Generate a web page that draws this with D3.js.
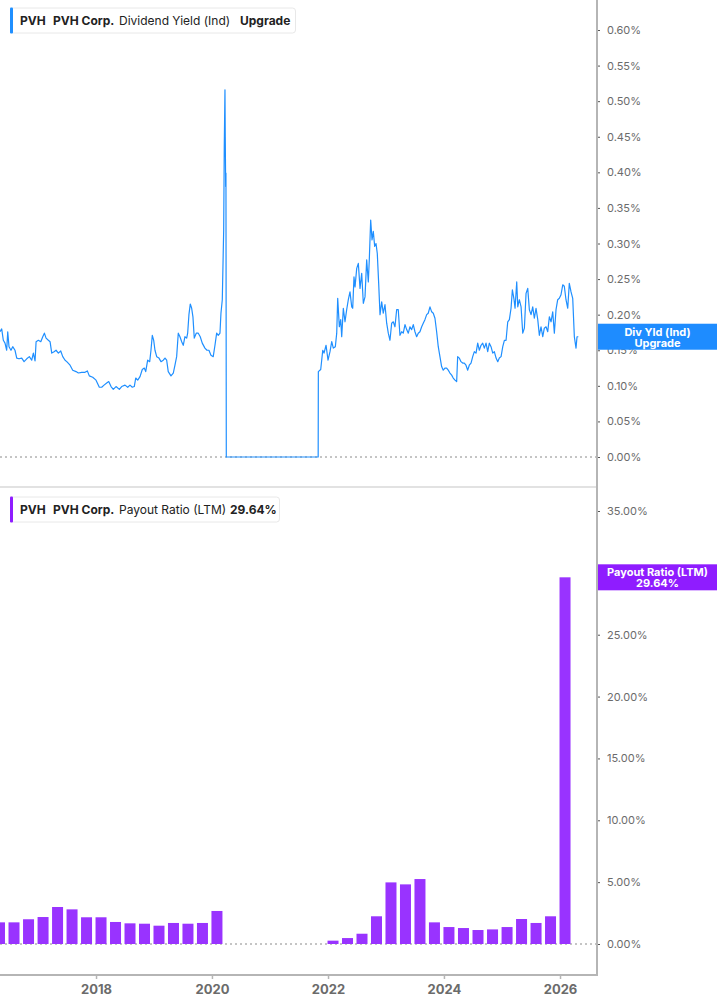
<!DOCTYPE html>
<html>
<head>
<meta charset="utf-8">
<script src="https://cdn.jsdelivr.net/npm/d3@7"></script>
<style>
  body { margin: 0; background: #fff; font-family: Inter, "Noto Sans", sans-serif; }
  svg text { font-family: Inter, "Noto Sans", sans-serif; }
</style>
</head>
<body>
<div id="plot"></div>
<script>
// Dividend yield (Ind), % — [decimal year, value]
const yieldDates = [
  2016.345, 2016.374, 2016.402, 2016.431, 2016.460, 2016.478, 2016.500, 2016.534, 2016.564, 2016.603,
  2016.633, 2016.672, 2016.719, 2016.759, 2016.805, 2016.850, 2016.891, 2016.919, 2016.948, 2016.966,
  2017.005, 2017.047, 2017.081, 2017.109, 2017.138, 2017.178, 2017.207, 2017.236, 2017.276, 2017.310,
  2017.350, 2017.391, 2017.426, 2017.466, 2017.495, 2017.552, 2017.598, 2017.655, 2017.695, 2017.753,
  2017.810, 2017.850, 2017.884, 2017.943, 2018.000, 2018.057, 2018.098, 2018.138, 2018.184, 2018.219,
  2018.259, 2018.298, 2018.345, 2018.402, 2018.443, 2018.500, 2018.547, 2018.586, 2018.626, 2018.660,
  2018.685, 2018.719, 2018.759, 2018.798, 2018.833, 2018.857, 2018.891, 2018.926, 2018.948, 2018.971,
  2018.995, 2019.017, 2019.047, 2019.086, 2019.121, 2019.160, 2019.190, 2019.219, 2019.246, 2019.293,
  2019.333, 2019.362, 2019.391, 2019.419, 2019.448, 2019.478, 2019.505, 2019.534, 2019.564, 2019.581,
  2019.603, 2019.626, 2019.650, 2019.672, 2019.695, 2019.729, 2019.764, 2019.798, 2019.833, 2019.879,
  2019.914, 2019.948, 2019.983, 2020.022, 2020.052, 2020.081, 2020.109, 2020.138, 2020.155, 2020.178,
  2020.202, 2020.212, 2020.224, 2020.229, 2020.236, 2020.241, 2020.247, 2021.830,
  2021.833, 2021.874, 2021.909, 2021.931, 2021.966, 2022.000, 2022.034, 2022.064, 2022.091, 2022.126,
  2022.150, 2022.167, 2022.195, 2022.219, 2022.236, 2022.264, 2022.293, 2022.322, 2022.350, 2022.379,
  2022.409, 2022.426, 2022.448, 2022.466, 2022.495, 2022.523, 2022.552, 2022.581, 2022.609, 2022.638,
  2022.667, 2022.695, 2022.712, 2022.736, 2022.759, 2022.781, 2022.805, 2022.828, 2022.850, 2022.874,
  2022.897, 2022.926, 2022.953, 2022.983, 2023.012, 2023.040, 2023.069, 2023.098, 2023.126, 2023.155,
  2023.184, 2023.212, 2023.241, 2023.271, 2023.298, 2023.328, 2023.357, 2023.385, 2023.414, 2023.443,
  2023.471, 2023.500, 2023.529, 2023.557, 2023.586, 2023.616, 2023.643, 2023.672, 2023.702, 2023.729,
  2023.759, 2023.788, 2023.816, 2023.845, 2023.874, 2023.902, 2023.931, 2023.960, 2023.988, 2024.017,
  2024.046, 2024.074, 2024.103, 2024.133, 2024.160, 2024.190, 2024.219, 2024.236, 2024.264, 2024.293,
  2024.322, 2024.350, 2024.379, 2024.409, 2024.436, 2024.466, 2024.495, 2024.523, 2024.552, 2024.581,
  2024.609, 2024.638, 2024.667, 2024.695, 2024.724, 2024.753, 2024.781, 2024.810, 2024.840, 2024.867,
  2024.897, 2024.926, 2024.953, 2024.983, 2025.012, 2025.040, 2025.069, 2025.098, 2025.126, 2025.155,
  2025.178, 2025.207, 2025.224, 2025.253, 2025.271, 2025.298, 2025.328, 2025.357, 2025.385, 2025.414,
  2025.443, 2025.471, 2025.500, 2025.529, 2025.557, 2025.586, 2025.616, 2025.643, 2025.672, 2025.702,
  2025.729, 2025.759, 2025.788, 2025.816, 2025.845, 2025.874, 2025.902, 2025.931, 2025.960, 2025.988,
  2026.017, 2026.047, 2026.074, 2026.103, 2026.133, 2026.160, 2026.190, 2026.219, 2026.247, 2026.276,
  2026.293, 2026.316
];
const yieldValues = [
  0.176, 0.180, 0.164, 0.160, 0.150, 0.176, 0.155, 0.150, 0.155, 0.150,
  0.139, 0.138, 0.139, 0.134, 0.138, 0.141, 0.136, 0.146, 0.135, 0.162,
  0.164, 0.162, 0.169, 0.174, 0.167, 0.164, 0.162, 0.146, 0.148, 0.150,
  0.146, 0.149, 0.141, 0.136, 0.134, 0.129, 0.122, 0.120, 0.118, 0.119,
  0.119, 0.121, 0.114, 0.112, 0.108, 0.098, 0.098, 0.101, 0.104, 0.106,
  0.099, 0.095, 0.099, 0.095, 0.099, 0.101, 0.098, 0.101, 0.098, 0.099,
  0.111, 0.108, 0.113, 0.123, 0.125, 0.120, 0.136, 0.134, 0.150, 0.171,
  0.164, 0.150, 0.141, 0.139, 0.134, 0.136, 0.139, 0.136, 0.120, 0.114,
  0.118, 0.129, 0.141, 0.174, 0.169, 0.162, 0.157, 0.169, 0.167, 0.174,
  0.200, 0.215, 0.209, 0.197, 0.167, 0.174, 0.174, 0.169, 0.160, 0.153,
  0.150, 0.150, 0.143, 0.141, 0.157, 0.174, 0.171, 0.174, 0.202, 0.221,
  0.319, 0.436, 0.516, 0.450, 0.380, 0.399, 0.000, 0.000,
  0.120, 0.123, 0.150, 0.146, 0.157, 0.136, 0.148, 0.162, 0.153, 0.155,
  0.174, 0.223, 0.183, 0.193, 0.169, 0.209, 0.190, 0.207, 0.221, 0.232,
  0.211, 0.209, 0.253, 0.239, 0.265, 0.272, 0.237, 0.258, 0.216, 0.225,
  0.277, 0.246, 0.277, 0.333, 0.305, 0.317, 0.296, 0.300, 0.286, 0.244,
  0.200, 0.218, 0.202, 0.214, 0.188, 0.174, 0.164, 0.188, 0.190, 0.183,
  0.207, 0.207, 0.171, 0.176, 0.174, 0.186, 0.179, 0.174, 0.183, 0.179,
  0.186, 0.176, 0.169, 0.174, 0.176, 0.183, 0.188, 0.193, 0.200, 0.202,
  0.211, 0.204, 0.202, 0.195, 0.176, 0.155, 0.141, 0.127, 0.122, 0.125,
  0.125, 0.122, 0.118, 0.115, 0.111, 0.108, 0.106, 0.141, 0.139, 0.134,
  0.132, 0.132, 0.129, 0.122, 0.129, 0.132, 0.141, 0.148, 0.146, 0.160,
  0.150, 0.157, 0.160, 0.153, 0.160, 0.148, 0.160, 0.155, 0.146, 0.148,
  0.139, 0.134, 0.139, 0.141, 0.155, 0.164, 0.164, 0.190, 0.193, 0.209,
  0.235, 0.221, 0.209, 0.246, 0.211, 0.221, 0.211, 0.174, 0.181, 0.230,
  0.237, 0.207, 0.200, 0.211, 0.195, 0.209, 0.193, 0.171, 0.183, 0.169,
  0.181, 0.183, 0.176, 0.197, 0.190, 0.204, 0.174, 0.207, 0.221, 0.223,
  0.228, 0.242, 0.240, 0.221, 0.209, 0.244, 0.232, 0.223, 0.169, 0.153,
  0.169, 0.169
];

// Payout ratio (LTM), % — quarterly
const payoutDates = [
  2016.25, 2016.50, 2016.75, 2017.00, 2017.25, 2017.50, 2017.75, 2018.00,
  2018.25, 2018.50, 2018.75, 2019.00, 2019.25, 2019.50, 2019.75, 2020.00,
  2022.00, 2022.25, 2022.50, 2022.75, 2023.00, 2023.25, 2023.50, 2023.75,
  2024.00, 2024.25, 2024.50, 2024.75, 2025.00, 2025.25, 2025.50, 2025.75, 2026.00
];
const payoutValues = [
  1.75, 1.75, 2.00, 2.18, 2.99, 2.80, 2.16, 2.16,
  1.78, 1.67, 1.64, 1.48, 1.70, 1.64, 1.70, 2.67,
  0.27, 0.48, 0.83, 2.24, 4.98, 4.82, 5.25, 1.75,
  1.37, 1.29, 1.13, 1.18, 1.37, 2.02, 1.70, 2.24, 29.64
];

const xTickYears = [2018, 2020, 2022, 2024, 2026];
const yieldTicks = [0, 0.05, 0.10, 0.15, 0.20, 0.25, 0.30, 0.35, 0.40, 0.45, 0.50, 0.55, 0.60];
const payoutTicks = [0, 5, 10, 15, 20, 25, 30, 35];

// decimal year -> Date
function toDate(y) {
  const yr = Math.floor(y);
  const start = new Date(yr, 0, 1).getTime();
  const end = new Date(yr + 1, 0, 1).getTime();
  return new Date(start + (y - yr) * (end - start));
}

const w = 717, h = 1005;
const plotRight = 597;
const blue = "#1f8fff";
const purple = "#9933ff";
const axisGray = "#b5b5b5";
const textGray = "#6b6b6b";

const svg = d3.select("#plot").append("svg")
  .attr("width", w)
  .attr("height", h);

// Shared x scale
const x = d3.scaleTime()
  .domain([toDate(2016.345), toDate(2026.638)])
  .range([0, plotRight]);

const yTop = d3.scaleLinear().domain([0, 0.6]).range([457, 30]);
const yBot = d3.scaleLinear().domain([0, 35]).range([944, 511]);

// Panel separator
svg.append("line")
  .attr("x1", 0).attr("x2", plotRight)
  .attr("y1", 487).attr("y2", 487)
  .attr("stroke", "#e2e2e2").attr("stroke-width", 2);

// Zero baselines
[[yTop, 0], [yBot, 0]].forEach(([s, v]) => {
  svg.append("line")
    .attr("x1", 0).attr("x2", plotRight)
    .attr("y1", s(v)).attr("y2", s(v))
    .attr("stroke", "#8a8a8a").attr("stroke-width", 1)
    .attr("stroke-dasharray", "2,3");
});

// Dividend yield line
const yieldData = yieldDates.map((d, i) => ({ date: toDate(d), value: yieldValues[i] }));
const line = d3.line()
  .x(d => x(d.date))
  .y(d => yTop(d.value));

svg.append("path")
  .datum(yieldData)
  .attr("fill", "none")
  .attr("stroke", blue)
  .attr("stroke-width", 1.2)
  .attr("stroke-linejoin", "round")
  .attr("d", line);

// Payout bars
const payoutData = payoutDates.map((d, i) => ({ date: toDate(d), value: payoutValues[i] }));
svg.append("g").selectAll("rect")
  .data(payoutData)
  .enter().append("rect")
  .attr("x", d => x(d.date) - 0.5)
  .attr("y", d => yBot(d.value))
  .attr("width", 11)
  .attr("height", d => yBot(0) - yBot(d.value))
  .attr("fill", purple);

// Right y axes
function styleAxis(g) {
  g.select(".domain").remove();
  g.selectAll(".tick line").attr("stroke", "#555").attr("stroke-width", 1);
  g.selectAll(".tick text")
    .attr("fill", textGray)
    .style("font-size", "11px");
}

svg.append("g")
  .attr("transform", `translate(${plotRight},0)`)
  .call(d3.axisRight(yTop).tickValues(yieldTicks).tickSize(3).tickPadding(7)
    .tickFormat(d => d.toFixed(2) + "%"))
  .call(styleAxis);

svg.append("g")
  .attr("transform", `translate(${plotRight},0)`)
  .call(d3.axisRight(yBot).tickValues(payoutTicks).tickSize(3).tickPadding(7)
    .tickFormat(d => d.toFixed(2) + "%"))
  .call(styleAxis);

// Bottom x axis
const xAxis = svg.append("g")
  .attr("transform", "translate(0,975)")
  .call(d3.axisBottom(x)
    .tickValues(xTickYears.map(y => new Date(y, 0, 1)))
    .tickSize(4).tickPadding(6)
    .tickFormat(d3.timeFormat("%Y")));
xAxis.select(".domain").remove();
xAxis.selectAll(".tick line").attr("stroke", axisGray).attr("stroke-width", 1.5);
xAxis.selectAll(".tick text")
  .attr("fill", textGray)
  .style("font-size", "13px")
  .style("font-weight", "700");

// Frame lines (right and bottom)
svg.append("line")
  .attr("x1", 0).attr("x2", plotRight + 1)
  .attr("y1", 975).attr("y2", 975)
  .attr("stroke", axisGray).attr("stroke-width", 2);
svg.append("line")
  .attr("x1", plotRight).attr("x2", plotRight)
  .attr("y1", 0).attr("y2", 976)
  .attr("stroke", axisGray).attr("stroke-width", 2);

// Last-value labels on the right
function valueLabel(yCenter, color, lines) {
  const g = svg.append("g");
  g.append("rect")
    .attr("x", plotRight + 1).attr("y", yCenter - 13)
    .attr("width", w - plotRight - 1).attr("height", 26)
    .attr("fill", color);
  lines.forEach((t, i) => {
    g.append("text")
      .attr("x", (plotRight + 1 + w) / 2)
      .attr("y", yCenter - 5 + i * 11)
      .attr("text-anchor", "middle")
      .attr("dominant-baseline", "central")
      .attr("fill", "#fff")
      .style("font-size", "11px")
      .style("font-weight", "700")
      .text(t);
  });
}
const lastYield = yieldData[yieldData.length - 1];
valueLabel(yTop(lastYield.value), "#1e8cff", ["Div Yld (Ind)", "Upgrade"]);
const lastPayout = payoutData[payoutData.length - 1];
valueLabel(yBot(lastPayout.value), "#8f1cff", ["Payout Ratio (LTM)", lastPayout.value.toFixed(2) + "%"]);

// Legends
function legend(y0, color, parts, boxW) {
  const g = svg.append("g").attr("transform", `translate(10,${y0})`);
  g.append("rect")
    .attr("x", 0.5).attr("y", 0.5)
    .attr("width", boxW).attr("height", 25)
    .attr("rx", 3)
    .attr("fill", "#fff")
    .attr("stroke", "#e8e8e8");
  g.append("rect")
    .attr("x", 0).attr("y", 0)
    .attr("width", 3).attr("height", 26)
    .attr("rx", 1)
    .attr("fill", color);
  parts.forEach(p => {
    g.append("text")
      .attr("x", p.x - 10)
      .attr("y", 13)
      .attr("dominant-baseline", "central")
      .attr("fill", "#222")
      .style("font-size", "12px")
      .style("font-weight", p.bold ? "700" : "400")
      .text(p.t);
  });
}
legend(7.5, blue, [
  { t: "PVH", x: 20, bold: true },
  { t: "PVH Corp.", x: 53, bold: true },
  { t: "Dividend Yield (Ind)", x: 119, bold: false },
  { t: "Upgrade", x: 240, bold: true }
], 285);
legend(496.5, "#8f1cff", [
  { t: "PVH", x: 20, bold: true },
  { t: "PVH Corp.", x: 53, bold: true },
  { t: "Payout Ratio (LTM)", x: 119, bold: false },
  { t: lastPayout.value.toFixed(2) + "%", x: 230, bold: true }
], 269);
</script>
</body>
</html>
